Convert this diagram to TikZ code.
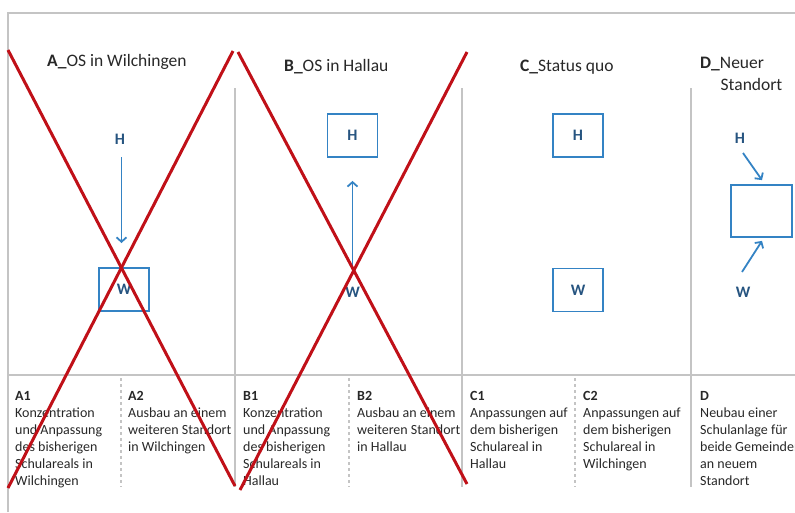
\documentclass[tikz,border=0pt]{standalone}
\usepackage{fontspec}
\setmainfont{Carlito}
\usetikzlibrary{arrows.meta,calc}
\definecolor{xred}{RGB}{192,16,24}
\definecolor{boxblue}{RGB}{52,131,196}
\definecolor{letterblue}{RGB}{38,84,128}
\definecolor{gridgray}{RGB}{196,196,196}
\definecolor{txt}{RGB}{40,40,40}
\begin{document}
\begin{tikzpicture}[x=1pt,y=-1pt,
  grid/.style={draw=gridgray,line width=1.6pt},
  dgrid/.style={draw=gridgray,line width=1.3pt,dash pattern=on 3pt off 3pt},
  cross/.style={draw=xred,line width=3pt},
  title/.style={anchor=base west,inner sep=0,font=\fontsize{17.5}{21}\selectfont,text=txt},
  body/.style={anchor=north west,inner sep=0,align=left,font=\fontsize{14}{17}\selectfont,text=txt},
  place/.style={draw=boxblue,line width=1.8pt,minimum width=50pt,minimum height=43pt,inner sep=0,font=\fontsize{16}{19}\selectfont\bfseries,text=letterblue},
  letter/.style={inner sep=0,font=\fontsize{16}{19}\selectfont\bfseries,text=letterblue},
  arr/.style={draw=boxblue,line width=1.8pt,-{Straight Barb[length=4.5pt,width=10pt]}}
]
\useasboundingbox (0,0) rectangle (795,512);
% frame and grid
\draw[grid] (8,512) -- (8,13) -- (795,13);
\draw[grid] (8,375) -- (795,375);
\foreach \x in {235,462,691} \draw[grid] (\x,88) -- (\x,487);
\foreach \x in {121,349,575} \draw[dgrid] (\x,378) -- (\x,487);
% titles
\node[title] (tA) at (47,66.5) {\textbf{A\_}OS in Wilchingen};
\node[title] (tB) at (284,71.5) {\textbf{B\_}OS in Hallau};
\node[title] (tC) at (520,71.5) {\textbf{C\_}Status quo};
\node[title] (tD) at (700,68.5) {\textbf{D\_}Neuer};
\node[title] (tD2) at (720.5,90) {Standort};
% A
\node[letter] (aH) at (120,139) {H};
\node[place] (aW) at (124,289.5) {W};
\coordinate (aTip) at (121.5,243);
\draw[arr,shorten <=13pt] (aH.south -| aTip) -- (aTip);
% B
\node[place] (bH) at (352.5,135.5) {H};
\node[letter] (bW) at (352.5,292) {W};
\draw[arr,shorten <=18pt,shorten >=23pt] (bW.north) -- (bH.south);
% C
\node[place] (cH) at (578,135.5) {H};
\node[place] (cW) at (578,290) {W};
% D
\node[letter] (dH) at (740,138) {H};
\node[place,minimum width=61pt,minimum height=52pt] (dBox) at (761.5,211) {};
\node[letter] (dW) at (743,292) {W};
\draw[arr] ($(dH)+(3,15)$) -- ($(dBox.north)+(0.5,-4)$);
\draw[arr] ($(dW)+(-1,-20)$) -- ($(dBox.south)+(0.5,3)$);
% descriptions
\node[body] (a1) at (15,391) {\textbf{A1}\\Konzentration\\und Anpassung\\des bisherigen\\Schulareals in\\Wilchingen};
\node[body] (a2) at (128,391) {\textbf{A2}\\Ausbau an einem\\weiteren Standort\\in Wilchingen};
\node[body] (b1) at (243,391) {\textbf{B1}\\Konzentration\\und Anpassung\\des bisherigen\\Schulareals in\\Hallau};
\node[body] (b2) at (357,391) {\textbf{B2}\\Ausbau an einem\\weiteren Standort\\in Hallau};
\node[body] (c1) at (470,391) {\textbf{C1}\\Anpassungen auf\\dem bisherigen\\Schulareal in\\Hallau};
\node[body] (c2) at (583,391) {\textbf{C2}\\Anpassungen auf\\dem bisherigen\\Schulareal in\\Wilchingen};
\node[body] (d) at (700,391) {\textbf{D}\\Neubau einer\\Schulanlage für\\beide Gemeinden\\an neuem\\Standort};
% crosses
\draw[cross] (8,50) -- (235,486);
\draw[cross] (233,51) -- (8,488);
\draw[cross] (238,52) -- (467,484);
\draw[cross] (467,52) -- (240,490);
\end{tikzpicture}
\end{document}
